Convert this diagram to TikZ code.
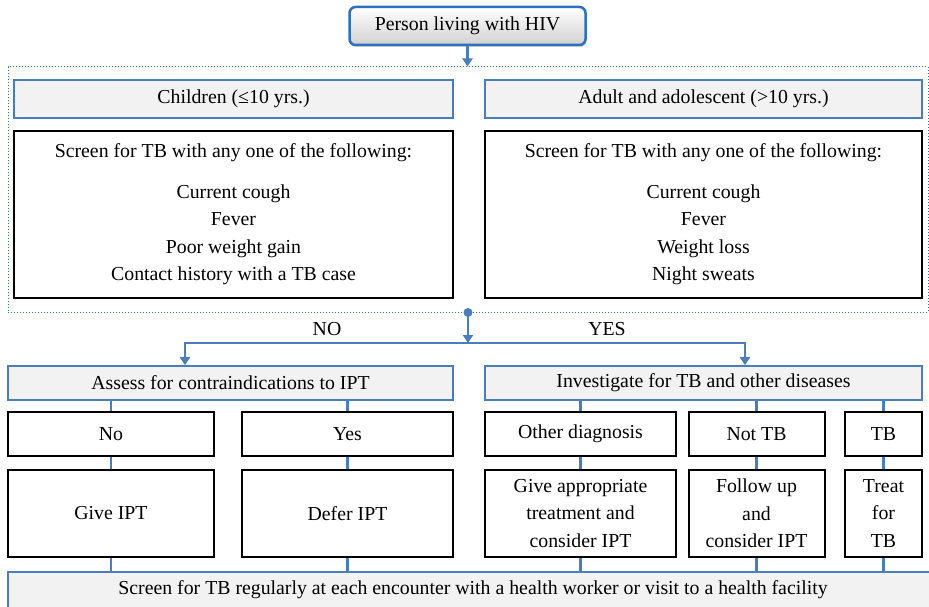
\documentclass[tikz,border=0pt]{standalone}
\usepackage{fontspec}
\setmainfont{Liberation Serif}
\usetikzlibrary{positioning}
\usetikzlibrary{calc}
\usetikzlibrary{arrows.meta}
\usetikzlibrary{shadows}
\definecolor{linhaazul}{RGB}{74,126,187}
\definecolor{topoazul}{RGB}{46,112,190}
\definecolor{fundocinza}{RGB}{242,242,242}
\tikzset{
  texto/.style={font=\fontsize{19.8}{27.5}\selectfont},
  cabecalho/.style={texto, draw=linhaazul, line width=1.8pt, fill=fundocinza, inner sep=0pt},
  caixa/.style={texto, draw=black, line width=2pt, fill=white, align=center, inner sep=0pt},
  liga/.style={draw=linhaazul, line width=2.8pt},
  seta/.style={liga, -{Triangle[width=10pt,length=8pt]}},
}

\begin{document}
\begin{tikzpicture}[x=1pt, y=-1pt]

        \useasboundingbox (0,0) rectangle (929,607);

        % Moldura e topo
        \node[draw=topoazul, dotted, line width=1pt, minimum width=920, minimum height=245] (moldura) at (468,189.5) {};
        \node[texto, draw=topoazul, line width=2.5pt, rounded corners=6pt, top color=white, bottom color=black!18,
              drop shadow={opacity=0.35, shadow xshift=1pt, shadow yshift=-2pt},
              minimum width=236, minimum height=38] (pessoa) at (467.5,26) {Person living with HIV};

        % Definindo grupos
        \node[cabecalho, minimum width=439, minimum height=38] (criancas) at (233.5,99) {Children (≤10 yrs.)};
        \node[cabecalho, minimum width=437, minimum height=38] (adultos) at (703.5,99) {Adult and adolescent (>10 yrs.)};
        \node[caixa, minimum width=439, minimum height=167] (triagemC) at (233.5,214.5)
            {Screen for TB with any one of the following:\\[13pt] Current cough\\ Fever\\ Poor weight gain\\ Contact history with a TB case};
        \node[caixa, minimum width=437, minimum height=167] (triagemA) at (703.5,214.5)
            {Screen for TB with any one of the following:\\[13pt] Current cough\\ Fever\\ Weight loss\\ Night sweats};

        % Definindo decisões
        \node[texto] (rotNao) at (327,329) {NO};
        \node[texto] (rotSim) at (607,329) {YES};
        \node[cabecalho, minimum width=445, minimum height=34] (avaliar) at (230.5,383) {Assess for contraindications to IPT};
        \node[cabecalho, minimum width=437, minimum height=34] (investigar) at (703.5,383) {Investigate for TB and other diseases};

        \foreach \x/\nome/\txt/\larg in {111/nao/No/206, 347.5/sim/Yes/211, 580.5/outro/Other diagnosis/191,
                                         756.5/naotb/Not TB/136, 883.5/tb/TB/77}
            \node[caixa, minimum width=\larg, minimum height=44] (\nome) at (\x,434) {\txt};

        \foreach \x/\nome/\txt/\larg in {111/darIPT/Give IPT/206, 347.5/adiarIPT/Defer IPT/211,
                                         580.5/tratar/{Give appropriate\\treatment and\\consider IPT}/191,
                                         756.5/seguir/{Follow up\\and\\consider IPT}/136,
                                         883.5/tratarTB/{Treat\\for\\TB}/77}
            \node[caixa, minimum width=\larg, minimum height=87] (\nome) at (\x,513.5) {\txt};

        \node[cabecalho, minimum width=930, minimum height=36] (rastreio) at (473,590)
            {Screen for TB regularly at each encounter with a health worker or visit to a health facility};

        % Definindo setas
        \draw[seta] (pessoa.south) -- (pessoa.south |- moldura.north);
        \fill[linhaazul] (moldura.south) circle (4.5pt);
        \coordinate (ramo) at (468,343);
        \coordinate (ramoNao) at (185,343);
        \coordinate (ramoSim) at (745,343);
        \draw[seta] (moldura.south) -- (ramo);
        \draw[seta] (ramo) -| (ramoNao |- avaliar.north);
        \draw[seta] (ramo) -| (ramoSim |- investigar.north);

        % Definindo ligações
        \foreach \a in {nao, sim}
            \draw[liga] (\a.north) -- (\a.north |- avaliar.south);
        \foreach \a in {outro, naotb, tb}
            \draw[liga] (\a.north) -- (\a.north |- investigar.south);
        \foreach \a/\b in {nao/darIPT, sim/adiarIPT, outro/tratar, naotb/seguir, tb/tratarTB}
            \draw[liga] (\a.south) -- (\b.north);
        \foreach \b in {darIPT, adiarIPT, tratar, seguir, tratarTB}
            \draw[liga] (\b.south) -- (\b.south |- rastreio.north);

\end{tikzpicture}
\end{document}
